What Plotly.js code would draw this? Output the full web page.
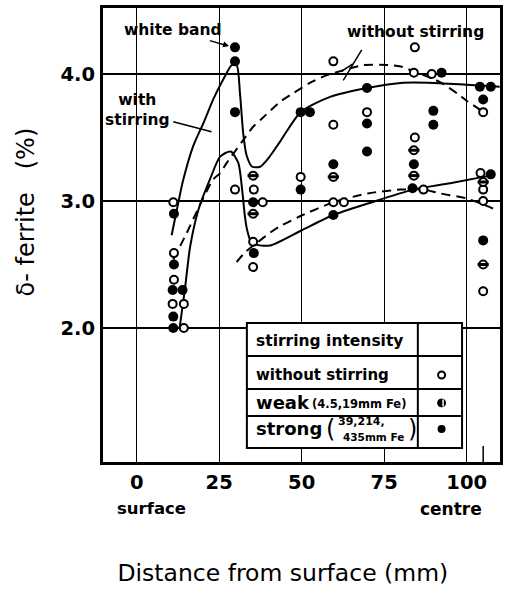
<!DOCTYPE html>
<html><head><meta charset="utf-8">
<script src="https://cdn.plot.ly/plotly-3.0.1.min.js"></script>
<style>html,body{margin:0;padding:0;background:#fff}</style>
</head><body><div id="chart" style="width:521px;height:589px"></div>
<script>
// ---- data ----
const xTickVals = [0, 25, 50, 75, 100];
const xTickText = ['0', '25', '50', '75', '100'];
const yTickVals = [2, 3, 4];
const yTickText = ['2.0', '3.0', '4.0'];

// without stirring (open circles)
const openX = [11.1, 11.3, 11.3, 10.9, 14.3, 14.3, 29.8, 35.5, 38.2, 35.3, 35.3, 49.7, 59.6, 59.6, 59.6, 62.8, 69.8, 84.3, 84.0, 89.4, 84.3, 86.9, 105.0, 104.2, 105.0, 105.0, 105.0];
const openY = [2.99, 2.59, 2.38, 2.19, 2.19, 2.00, 3.09, 3.09, 2.99, 2.68, 2.48, 3.19, 4.10, 3.60, 2.99, 2.99, 3.70, 4.21, 4.01, 4.00, 3.50, 3.09, 3.70, 3.22, 3.09, 3.00, 2.29];

// weak stirring (half-filled)
const weakX = [35.3, 35.3, 59.6, 84.0, 84.0, 105.0, 105.0];
const weakY = [3.20, 2.90, 3.19, 3.40, 3.20, 3.15, 2.50];

// strong stirring (filled)
const strongX = [11.3, 11.3, 10.9, 13.9, 11.1, 11.1, 29.8, 29.8, 29.8, 35.3, 35.5, 49.7, 52.5, 49.7, 59.6, 59.6, 69.8, 69.8, 69.8, 92.4, 89.9, 89.9, 84.0, 83.6, 104.0, 107.3, 105.0, 107.3, 105.0];
const strongY = [2.90, 2.50, 2.30, 2.30, 2.09, 2.00, 4.21, 4.10, 3.70, 2.99, 2.59, 3.70, 3.70, 3.09, 3.29, 2.89, 3.89, 3.61, 3.39, 4.01, 3.71, 3.60, 3.29, 3.10, 3.90, 3.90, 3.80, 3.21, 2.69];

// hand-drawn curves: with stirring (solid)
const withUpperX = [10.6, 12.4, 14.1, 17.1, 20.5, 23.2, 26.5, 28.8, 30.3, 31.3, 32.3, 33.3, 35.0, 37.4, 40.0, 43.5, 49.7, 58.6, 69.8, 80.0, 90.0, 104.0, 110.0];
const withUpperY = [2.73, 2.96, 3.165, 3.43, 3.63, 3.80, 3.97, 4.07, 4.07, 3.85, 3.53, 3.36, 3.27, 3.27, 3.34, 3.47, 3.70, 3.82, 3.89, 3.93, 3.93, 3.91, 3.90];
const withLowerX = [13.0, 14.6, 16.2, 18.7, 22.2, 25.3, 28.5, 30.8, 32.0, 32.8, 33.5, 34.5, 36.5, 40.4, 50.0, 59.6, 70.0, 83.8, 95.0, 107.0];
const withLowerY = [2.00, 2.30, 2.64, 2.93, 3.17, 3.35, 3.39, 3.30, 3.08, 2.88, 2.77, 2.69, 2.655, 2.65, 2.77, 2.89, 2.98, 3.09, 3.14, 3.20];
// without stirring (dashed)
const withoutUpperX = [11.1, 15.2, 19.0, 23.2, 25.3, 27.3, 32.3, 35.3, 38.4, 43.4, 47.5, 52.5, 56.5, 60.0, 68.7, 76.7, 80.0, 84.0, 90.0, 93.0, 97.5, 100.0, 104.0];
const withoutUpperY = [2.54, 2.75, 2.96, 3.17, 3.22, 3.30, 3.48, 3.585, 3.66, 3.78, 3.85, 3.93, 3.98, 4.01, 4.07, 4.07, 4.06, 4.02, 3.96, 3.92, 3.84, 3.79, 3.72];
const withoutLowerX = [30.3, 33.0, 36.4, 40.4, 43.4, 49.5, 59.6, 70.0, 80.0, 87.0, 92.0, 100.0, 109.0];
const withoutLowerY = [2.52, 2.60, 2.67, 2.75, 2.80, 2.88, 2.99, 3.06, 3.09, 3.09, 3.06, 3.02, 2.93];

// legend table keys
const keyLabels = ['without stirring', 'weak', 'strong'];
const keyX = [92.4, 92.4, 92.4];
const keyY = [1.63, 1.41, 1.205];

// ---- drawing ----
const F = '"DejaVu Sans", Lato, sans-serif';
const curve = (x, y, dash, name) => ({
  x, y, type: 'scatter', mode: 'lines', name, hoverinfo: 'skip',
  line: {color: '#000', width: 2, shape: 'spline', smoothing: 0.7, dash}
});
const traces = [
  curve(withUpperX, withUpperY, 'solid', 'with stirring'),
  curve(withLowerX, withLowerY, 'solid', 'with stirring'),
  curve(withoutUpperX, withoutUpperY, '9px,6px', 'without stirring'),
  curve(withoutLowerX, withoutLowerY, '9px,6px', 'without stirring'),
  {x: openX, y: openY, type: 'scatter', mode: 'markers', name: 'without stirring',
   marker: {symbol: 'circle', size: 8, color: '#fff', line: {color: '#000', width: 2}}},
  {x: weakX, y: weakY, type: 'scatter', mode: 'markers', name: 'weak',
   marker: {symbol: 'circle', size: 8, color: '#fff', line: {color: '#000', width: 2}}},
  {x: weakX, y: weakY, type: 'scatter', mode: 'markers', name: 'weak', showlegend: false,
   marker: {symbol: 'line-ew-open', size: 8, color: '#000', line: {color: '#000', width: 3}}},
  {x: strongX, y: strongY, type: 'scatter', mode: 'markers', name: 'strong',
   marker: {symbol: 'circle', size: 10, color: '#000', line: {color: '#000', width: 0}}},
  // legend table keys
  {x: [keyX[0]], y: [keyY[0]], type: 'scatter', mode: 'markers', name: keyLabels[0],
   marker: {symbol: 'circle', size: 7, color: '#fff', line: {color: '#000', width: 2}}},
  {x: [keyX[1]], y: [keyY[1]], type: 'scatter', mode: 'markers', name: keyLabels[1],
   marker: {symbol: 'circle', size: 8, color: '#000', line: {color: '#000', width: 1}}},
  {x: [keyX[1] + 0.45], y: [keyY[1]], type: 'scatter', mode: 'markers', name: keyLabels[1],
   marker: {symbol: 'line-ns-open', size: 5, color: '#fff', line: {color: '#fff', width: 1.5}}},
  {x: [keyX[2]], y: [keyY[2]], type: 'scatter', mode: 'markers', name: keyLabels[2],
   marker: {symbol: 'circle', size: 8, color: '#000', line: {width: 0}}}
];

// table geometry (data coords)
const tL = 33.4, tR = 98.6, tC = 85.2;
const tRows = [2.04, 1.78, 1.52, 1.307, 1.055];
const shapes = [
  {type: 'rect', xref: 'x', yref: 'y', x0: tL, x1: tR, y0: tRows[4], y1: tRows[0],
   fillcolor: '#fff', line: {color: '#000', width: 2}, layer: 'between'},
  {type: 'line', xref: 'x', yref: 'y', x0: tC, x1: tC, y0: tRows[4], y1: tRows[0], line: {color: '#000', width: 2}, layer: 'between'},
  ...[1, 2, 3].map(i => ({type: 'line', xref: 'x', yref: 'y', x0: tL, x1: tR, y0: tRows[i], y1: tRows[i], line: {color: '#000', width: 2}, layer: 'between'})),
  // leader lines
  {type: 'line', xref: 'x', yref: 'y', x0: 11.1, y0: 3.624, x1: 22.7, y1: 3.545, line: {color: '#000', width: 1.5}},
  {type: 'line', xref: 'x', yref: 'y', x0: 68.2, y0: 4.19, x1: 62.6, y1: 3.95, line: {color: '#000', width: 1.5}},
  {type: 'line', xref: 'x', yref: 'y', x0: 62.0, y0: 4.02, x1: 65.5, y1: 4.08, line: {color: '#000', width: 1.5}},
  // short tick at the centre
  {type: 'line', xref: 'x', yref: 'paper', x0: 105, x1: 105, y0: 0, y1: 0.035, line: {color: '#000', width: 1.5}}
];

const tf = (size, w) => ({family: F, size, color: '#000', weight: w || 'bold'});
const annotations = [
  {x: 28, y: 4.22, xref: 'x', yref: 'y', text: 'white band', showarrow: true, ax: -56, ay: -16,
   arrowhead: 2, arrowsize: 0.8, arrowwidth: 1.5, arrowcolor: '#000', font: tf(15.5)},
  {x: 84.6, y: 4.33, xref: 'x', yref: 'y', text: 'without stirring', showarrow: false, font: tf(15.5)},
  {x: 0.3, y: 3.72, xref: 'x', yref: 'y', text: 'with<br>stirring', showarrow: false, font: tf(15.5)},
  {x: 35.6, y: 1.898, xref: 'x', yref: 'y', xanchor: 'left', text: 'stirring intensity', showarrow: false, font: tf(15.5)},
  {x: 35.6, y: 1.63, xref: 'x', yref: 'y', xanchor: 'left', text: 'without stirring', showarrow: false, font: tf(15)},
  {x: 35.6, y: 1.41, xref: 'x', yref: 'y', xanchor: 'left', text: 'weak', showarrow: false, font: tf(18)},
  {x: 52.6, y: 1.40, xref: 'x', yref: 'y', xanchor: 'left', text: '(4.5,19mm Fe)', showarrow: false, font: tf(11.5)},
  {x: 35.6, y: 1.205, xref: 'x', yref: 'y', xanchor: 'left', text: 'strong', showarrow: false, font: tf(18)},
  {x: 58.7, y: 1.205, xref: 'x', yref: 'y', text: '(', showarrow: false, font: tf(24, 'normal')},
  {x: 83.5, y: 1.205, xref: 'x', yref: 'y', text: ')', showarrow: false, font: tf(24, 'normal')},
  {x: 60.4, y: 1.265, xref: 'x', yref: 'y', xanchor: 'left', text: '39,214,', showarrow: false, font: tf(11)},
  {x: 61.9, y: 1.145, xref: 'x', yref: 'y', xanchor: 'left', text: '435mm Fe', showarrow: false, font: tf(10.5)},
  {x: 115, y: 520, xref: 'paper', yref: 'paper', text: 'surface', showarrow: false, font: tf(16.5)},
  {x: 484, y: 521, xref: 'paper', yref: 'paper', text: 'centre', showarrow: false, font: tf(17)}
];
// convert the two pixel-placed labels to paper coordinates
const L = 103, R = 21, T = 8, B = 127, W = 521, H = 589;
annotations.slice(-2).forEach(a => {
  a.x = (a.x - L) / (W - L - R);
  a.y = (H - B - a.y) / (H - T - B);
});

const layout = {
  width: W, height: H,
  margin: {l: L, r: R, t: T, b: B},
  paper_bgcolor: '#fff', plot_bgcolor: '#fff',
  showlegend: false,
  xaxis: {
    range: [-10.2, 110.1], tickvals: xTickVals, ticktext: xTickText,
    showgrid: true, gridcolor: '#000', gridwidth: 1.3, zeroline: false,
    showline: true, linecolor: '#000', linewidth: 3, mirror: true, ticks: '',
    tickfont: tf(19.5), ticklabelstandoff: 1, automargin: false,
    title: {text: 'Distance from surface (mm)&nbsp;&nbsp;&nbsp;&nbsp;&nbsp;', font: tf(23.5, 'normal'), standoff: 72}
  },
  yaxis: {
    range: [0.945, 4.52], tickvals: yTickVals, ticktext: yTickText,
    showgrid: true, gridcolor: '#000', gridwidth: 1.3, zeroline: false,
    showline: true, linecolor: '#000', linewidth: 3, mirror: true, ticks: '',
    tickfont: tf(19.5), ticklabelstandoff: 1, automargin: false,
    title: {text: '&nbsp;&nbsp;&nbsp;&nbsp;&nbsp;&nbsp;δ- ferrite &nbsp;&nbsp;(%)', font: tf(24, 'normal'), standoff: 20}
  },
  shapes, annotations
};
Plotly.newPlot('chart', traces, layout, {staticPlot: true, displayModeBar: false});
</script></body></html>
